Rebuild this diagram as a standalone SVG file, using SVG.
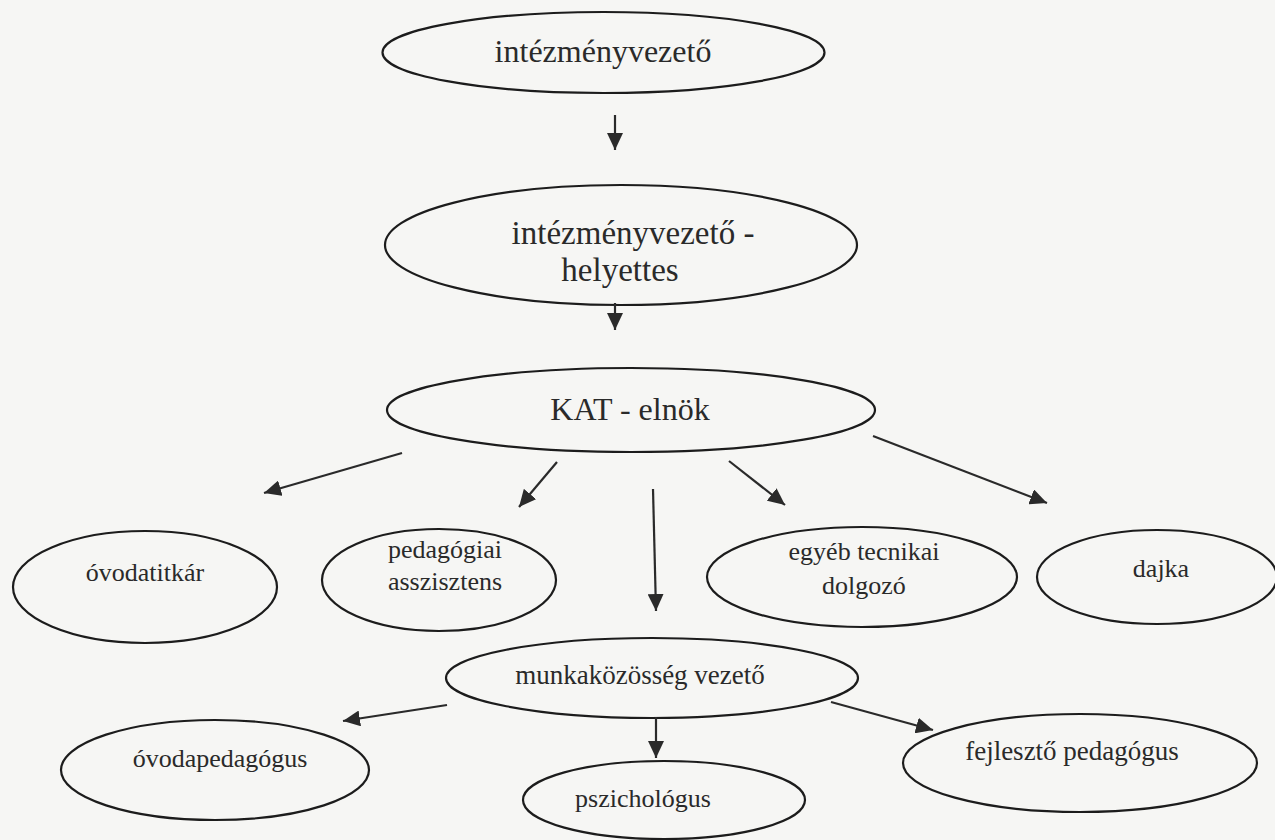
<svg xmlns="http://www.w3.org/2000/svg" width="1275" height="840" viewBox="0 0 1275 840">
<defs>
<marker id="ah" markerUnits="userSpaceOnUse" markerWidth="18" markerHeight="16" refX="17" refY="8" orient="auto">
<path d="M0,0 L17,8 L0,16 Z" fill="#2a2a2a"/>
</marker>
<style>
.n ellipse{fill:none;stroke:#1c1c1c;stroke-width:2.2}
.t{font-family:"Liberation Serif","Times New Roman",serif;fill:#2a2a2a;text-anchor:middle}
.c line{stroke:#2a2a2a;stroke-width:2.2;marker-end:url(#ah)}
</style>
</defs>
<rect width="1275" height="840" fill="#f6f6f4"/>
<g id="n1" class="n"><ellipse cx="603.5" cy="52.5" rx="221" ry="40.5"/><text class="t" x="603" y="62" font-size="32">intézményvezető</text></g>
<g id="n2" class="n"><ellipse cx="621" cy="245" rx="236" ry="60"/><text class="t" x="633" y="244" font-size="33">intézményvezető -</text><text class="t" x="620" y="281" font-size="33">helyettes</text></g>
<g id="n3" class="n"><ellipse cx="631" cy="410" rx="244" ry="42"/><text class="t" x="630" y="420" font-size="32">KAT - elnök</text></g>
<g id="n4" class="n"><ellipse cx="145" cy="587" rx="132" ry="56"/><text class="t" x="145" y="581" font-size="26">óvodatitkár</text></g>
<g id="n5" class="n"><ellipse cx="439" cy="580" rx="117" ry="51"/><text class="t" x="445" y="558" font-size="26">pedagógiai</text><text class="t" x="445" y="590" font-size="26">asszisztens</text></g>
<g id="n6" class="n"><ellipse cx="862" cy="577" rx="155" ry="50"/><text class="t" x="864" y="560" font-size="26">egyéb tecnikai</text><text class="t" x="864" y="594" font-size="26">dolgozó</text></g>
<g id="n7" class="n"><ellipse cx="1157" cy="577" rx="120" ry="47"/><text class="t" x="1161" y="577" font-size="26">dajka</text></g>
<g id="n8" class="n"><ellipse cx="652" cy="678" rx="206" ry="40"/><text class="t" x="640" y="684" font-size="27">munkaközösség vezető</text></g>
<g id="n9" class="n"><ellipse cx="215" cy="770" rx="154" ry="50"/><text class="t" x="220" y="767" font-size="26">óvodapedagógus</text></g>
<g id="n10" class="n"><ellipse cx="664" cy="800" rx="141" ry="39"/><text class="t" x="643" y="807" font-size="26">pszichológus</text></g>
<g id="n11" class="n"><ellipse cx="1080" cy="763" rx="177" ry="49"/><text class="t" x="1072" y="760" font-size="27">fejlesztő pedagógus</text></g>
<g id="connectors" class="c">
<line x1="615" y1="115" x2="615" y2="150"/>
<line x1="615" y1="303" x2="615" y2="330"/>
<line x1="402" y1="453" x2="264" y2="493"/>
<line x1="557" y1="462" x2="519" y2="507"/>
<line x1="653" y1="489" x2="656" y2="611"/>
<line x1="729" y1="461" x2="785" y2="505"/>
<line x1="873" y1="436" x2="1047" y2="503"/>
<line x1="447" y1="705" x2="343" y2="721"/>
<line x1="656" y1="717" x2="656" y2="758"/>
<line x1="831" y1="702" x2="933" y2="730"/>
</g>
</svg>
